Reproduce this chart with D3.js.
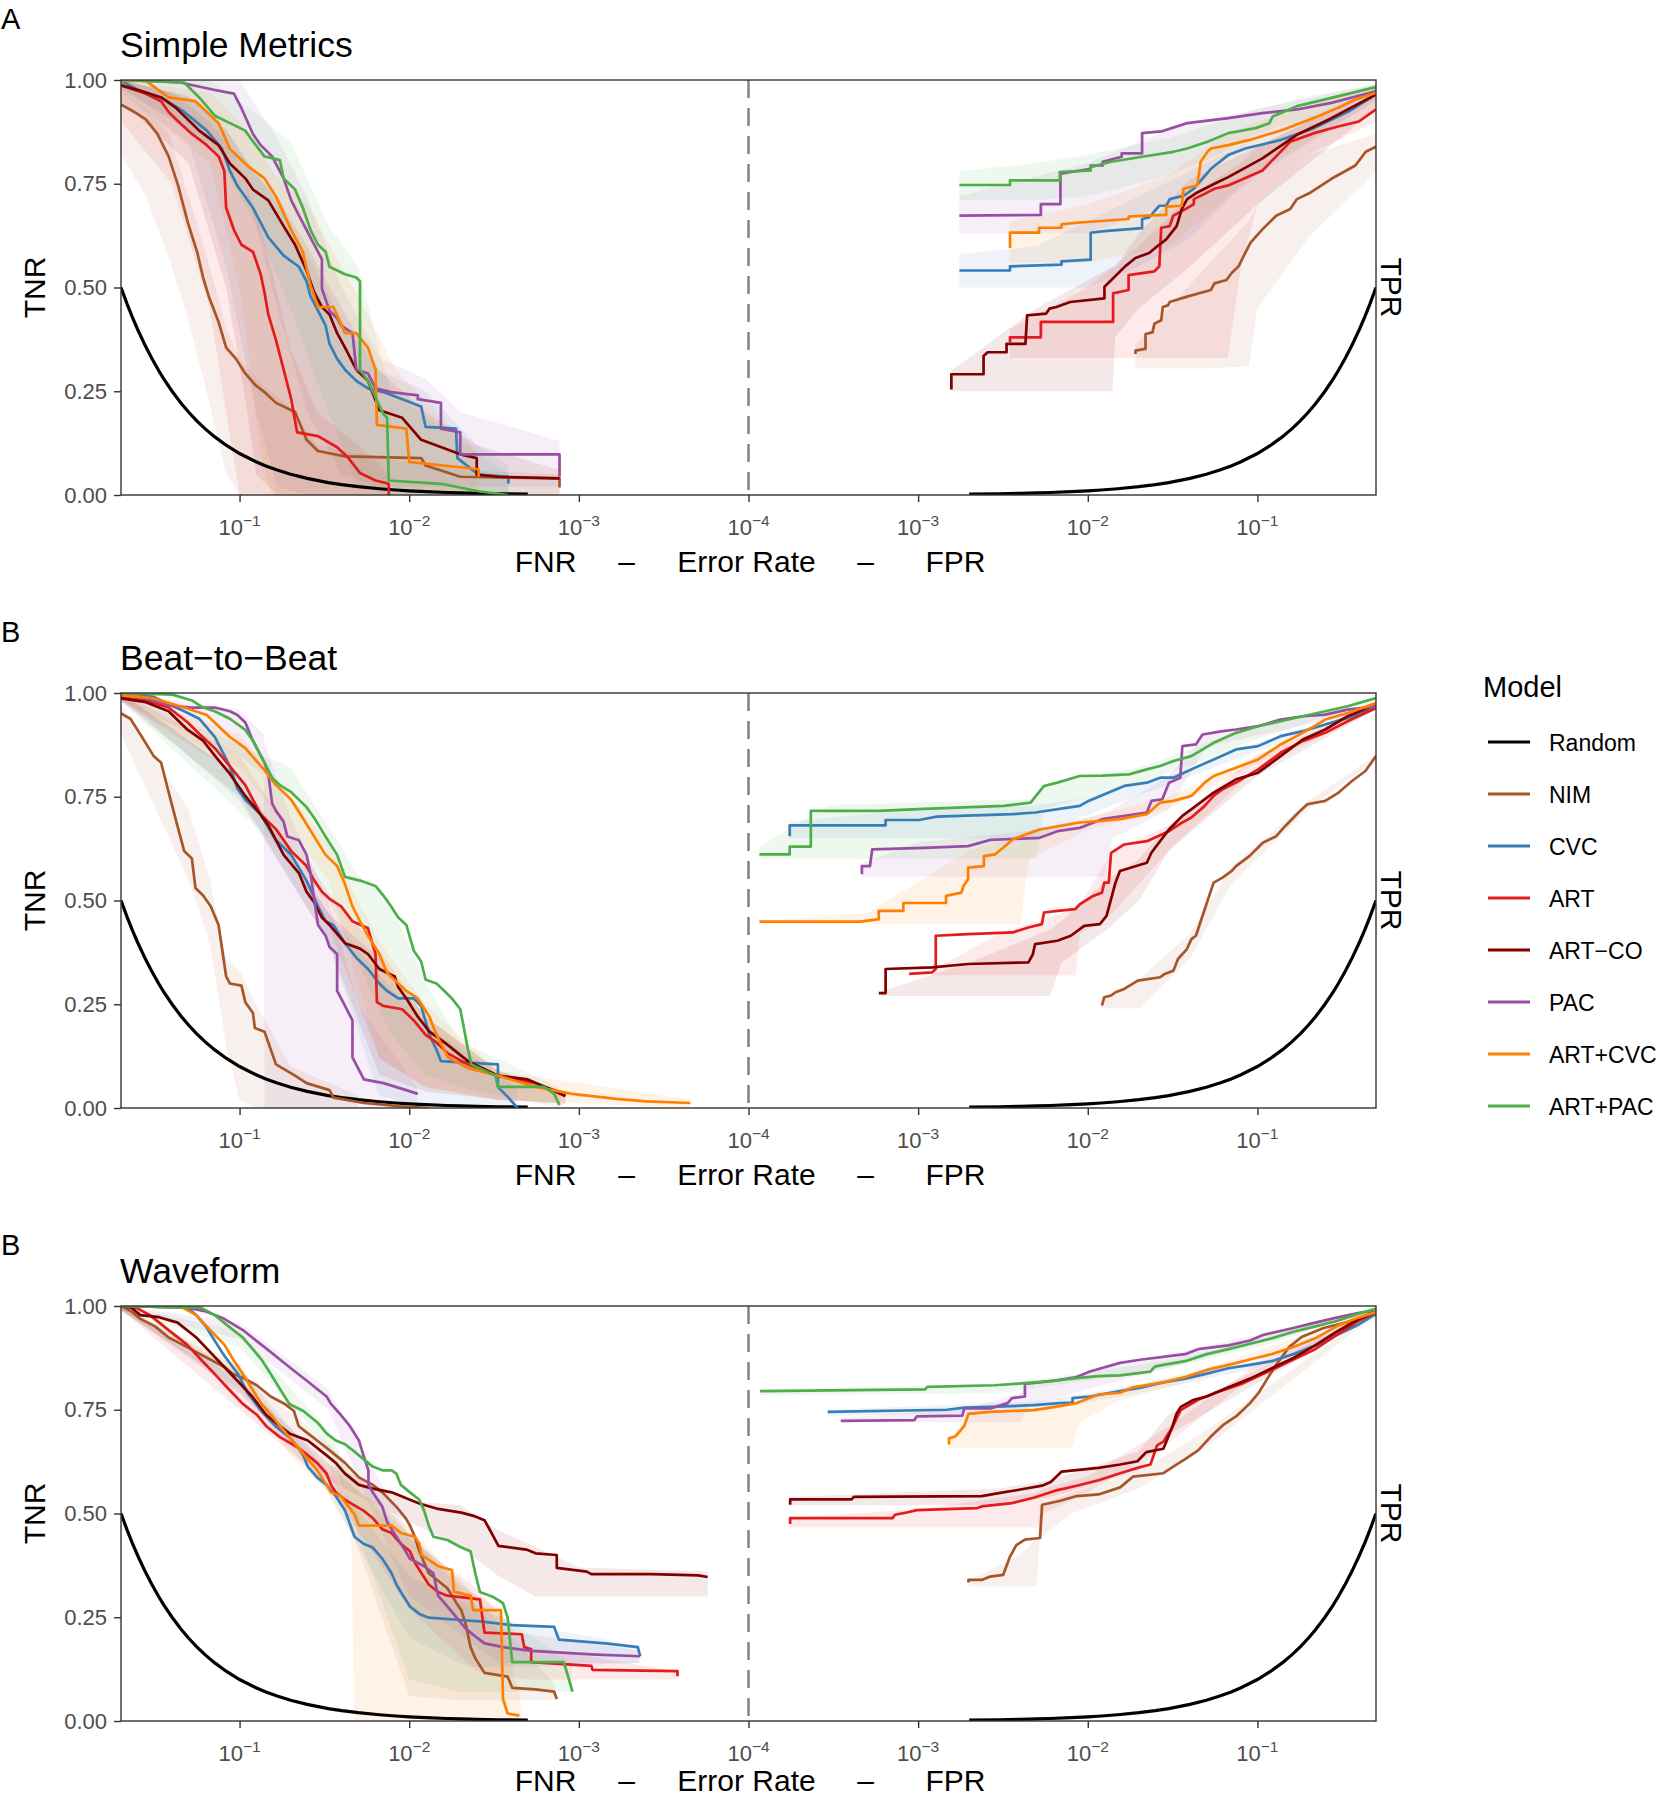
<!DOCTYPE html>
<html><head><meta charset="utf-8">
<script src="https://cdn.jsdelivr.net/npm/d3@7"></script>
<style>body{margin:0;background:#fff}svg text{font-family:"Liberation Sans",Arial,Helvetica,sans-serif}</style>
</head><body>
<svg id="chart" width="1661" height="1800"></svg>
<script>
// ---------- labels ----------
const legendTitle = "Model";
const models = ["Random","NIM","CVC","ART","ART\u2212CO","PAC","ART+CVC","ART+PAC"];
const modelColors = ["#000000","#a65628","#377eb8","#e41a1c","#800000","#984ea3","#ff7f00","#4daf4a"];
const panelTitles = ["Simple Metrics","Beat\u2212to\u2212Beat","Waveform"];
const panelTags = ["A","B","B"];
const yTickValues = [0,0.25,0.5,0.75,1];
const yTickLabels = ["0.00","0.25","0.50","0.75","1.00"];
const fnrTickValues = [0.1,0.01,0.001];
const fnrTickExponents = ["\u22121","\u22122","\u22123"];
const fprTickValues = [0.0001,0.001,0.01,0.1];
const fprTickExponents = ["\u22124","\u22123","\u22122","\u22121"];
const xTitleParts = ["FNR","\u2013","Error Rate","\u2013","FPR"];
const yTitleLeft = "TNR", yTitleRight = "TPR";

// ---------- Random reference curve (rate, rate) ----------
const randomRates  = [0.002,0.003,0.004,0.005,0.006,0.008,0.01,0.012,0.015,0.02,0.025,0.03,0.04,0.05,0.06,0.07,0.08,0.1,0.12,0.14,0.16,0.18,0.2,0.22,0.25,0.28,0.3,0.33,0.36,0.4,0.43,0.46,0.5];
const randomValues = [0.002,0.003,0.004,0.005,0.006,0.008,0.01,0.012,0.015,0.02,0.025,0.03,0.04,0.05,0.06,0.07,0.08,0.1,0.12,0.14,0.16,0.18,0.2,0.22,0.25,0.28,0.3,0.33,0.36,0.4,0.43,0.46,0.5];

// ================= Panel A: Simple Metrics =================
// left side: [FNR, TNR]
const A_FNR_NIM = [[0.5,0.941],[0.418,0.923],[0.357,0.905],[0.305,0.870],[0.262,0.816],[0.230,0.745],[0.202,0.657],[0.178,0.586],[0.164,0.524],[0.152,0.479],[0.133,0.417],[0.120,0.355],[0.105,0.328],[0.0925,0.293],[0.0813,0.266],[0.0713,0.248],[0.061,0.222],[0.0471,0.200],[0.0403,0.133],[0.0345,0.106],[0.0239,0.093],[0.0085,0.089],[0.0080,0.071],[0.0050,0.044],[0.0013,0.040],[0.0013,0.018]];
const A_FNR_CVC = [[0.5,0.998],[0.396,0.976],[0.29,0.958],[0.212,0.923],[0.156,0.878],[0.127,0.834],[0.114,0.781],[0.103,0.745],[0.0834,0.692],[0.0677,0.621],[0.055,0.577],[0.0447,0.550],[0.0403,0.515],[0.0382,0.479],[0.0345,0.444],[0.0311,0.408],[0.0295,0.364],[0.0266,0.328],[0.0239,0.302],[0.0205,0.275],[0.0175,0.257],[0.0142,0.248],[0.0085,0.213],[0.008,0.164],[0.0053,0.160],[0.0052,0.089],[0.0039,0.049],[0.0026,0.044],[0.0026,0.027]];
const A_FNR_ART = [[0.5,0.987],[0.357,0.967],[0.29,0.949],[0.262,0.923],[0.224,0.896],[0.191,0.870],[0.156,0.843],[0.133,0.816],[0.123,0.781],[0.120,0.692],[0.108,0.639],[0.0975,0.603],[0.0834,0.586],[0.0751,0.532],[0.0713,0.488],[0.0677,0.435],[0.061,0.373],[0.055,0.302],[0.0496,0.231],[0.0458,0.151],[0.0345,0.142],[0.0266,0.115],[0.0228,0.089],[0.0195,0.053],[0.0158,0.035],[0.0132,0.027],[0.0132,0]];
const A_FNR_ARTCO = [[0.5,0.987],[0.396,0.976],[0.29,0.958],[0.236,0.932],[0.173,0.878],[0.133,0.843],[0.114,0.799],[0.0925,0.763],[0.0834,0.736],[0.0677,0.710],[0.055,0.648],[0.0471,0.603],[0.0403,0.541],[0.0363,0.488],[0.0327,0.453],[0.0295,0.435],[0.0266,0.390],[0.0239,0.355],[0.0205,0.302],[0.0175,0.275],[0.015,0.204],[0.011,0.186],[0.0085,0.133],[0.005,0.098],[0.004,0.089],[0.004,0.049],[0.003,0.044],[0.0013,0.040]];
const A_FNR_PAC = [[0.5,1.0],[0.224,0.994],[0.14,0.976],[0.108,0.967],[0.0975,0.932],[0.0834,0.870],[0.0751,0.843],[0.0643,0.816],[0.055,0.763],[0.0496,0.710],[0.0447,0.674],[0.0403,0.639],[0.0363,0.603],[0.0327,0.568],[0.0327,0.497],[0.0295,0.444],[0.0266,0.426],[0.0252,0.408],[0.0216,0.390],[0.0205,0.302],[0.0175,0.293],[0.0158,0.257],[0.0128,0.248],[0.0089,0.240],[0.0089,0.231],[0.0065,0.222],[0.0065,0.160],[0.005,0.151],[0.005,0.098],[0.0013,0.098],[0.0013,0.044]];
const A_FNR_ARTCVC = [[0.5,0.998],[0.357,0.998],[0.262,0.958],[0.182,0.949],[0.156,0.923],[0.133,0.896],[0.114,0.834],[0.0878,0.790],[0.0713,0.763],[0.061,0.719],[0.0496,0.639],[0.0424,0.586],[0.0382,0.506],[0.0345,0.453],[0.028,0.453],[0.0239,0.390],[0.0205,0.390],[0.0175,0.355],[0.0158,0.302],[0.0155,0.169],[0.0104,0.160],[0.01,0.080],[0.0039,0.062],[0.0039,0.044]];
const A_FNR_ARTPAC = [[0.5,1.0],[0.212,0.994],[0.173,0.958],[0.14,0.914],[0.114,0.896],[0.0925,0.878],[0.0834,0.852],[0.0713,0.816],[0.0579,0.807],[0.055,0.763],[0.0471,0.736],[0.0424,0.692],[0.0382,0.639],[0.0345,0.603],[0.0311,0.586],[0.0295,0.550],[0.0239,0.532],[0.0205,0.524],[0.0195,0.515],[0.0195,0.302],[0.0175,0.275],[0.0142,0.195],[0.0135,0.186],[0.0132,0.035],[0.0065,0.027],[0.0039,0.009],[0.0026,0.0]];
// left side bands: [FNR, low, high]
const A_FNR_NIM_ci = [[0.5,0.82,0.97],[0.357,0.72,0.93],[0.26,0.57,0.87],[0.2,0.42,0.72],[0.15,0.22,0.55],[0.12,0.05,0.40],[0.1,0,0.33],[0.075,0,0.27],[0.05,0,0.21],[0.035,0,0.12],[0.02,0,0.10],[0.005,0,0.06],[0.0013,0,0.05]];
const A_FNR_CVC_ci = [[0.5,0.97,1],[0.2,0.85,0.96],[0.12,0.55,0.88],[0.08,0.2,0.78],[0.06,0.02,0.7],[0.04,0,0.58],[0.025,0,0.42],[0.015,0,0.3],[0.008,0,0.25],[0.004,0,0.12],[0.0026,0,0.07]];
const A_FNR_ART_ci = [[0.5,0.9,1],[0.25,0.75,0.97],[0.15,0.45,0.9],[0.12,0.2,0.85],[0.1,0,0.8],[0.07,0,0.6],[0.05,0,0.35],[0.035,0,0.2],[0.02,0,0.12],[0.0132,0,0.05]];
const A_FNR_ARTCO_ci = [[0.5,0.95,1],[0.2,0.8,0.96],[0.12,0.5,0.88],[0.09,0.2,0.8],[0.08,0.05,0.77],[0.06,0,0.72],[0.04,0,0.6],[0.025,0,0.45],[0.015,0,0.3],[0.008,0,0.2],[0.004,0,0.12],[0.0013,0,0.06]];
const A_FNR_PAC_ci = [[0.5,0.98,1],[0.1,0.8,1],[0.06,0.45,0.86],[0.04,0.2,0.72],[0.025,0.05,0.5],[0.015,0.02,0.33],[0.008,0.02,0.28],[0.005,0.02,0.2],[0.0013,0.02,0.13]];
const A_FNR_ARTCVC_ci = [[0.5,0.97,1],[0.15,0.8,0.97],[0.1,0.5,0.9],[0.075,0.1,0.83],[0.065,0,0.78],[0.04,0,0.7],[0.02,0,0.48],[0.012,0,0.3],[0.0039,0,0.1]];
const A_FNR_ARTPAC_ci = [[0.5,0.98,1],[0.15,0.85,1],[0.08,0.65,0.92],[0.05,0.45,0.85],[0.03,0.2,0.65],[0.02,0.02,0.55],[0.013,0,0.25],[0.0026,0,0.05]];
// right side: [FPR, TPR]
const A_FPR_NIM = [[0.0191,0.340],[0.0191,0.348],[0.0219,0.352],[0.0219,0.388],[0.0241,0.392],[0.0247,0.413],[0.0271,0.421],[0.0277,0.453],[0.0297,0.457],[0.0304,0.465],[0.0385,0.478],[0.0532,0.494],[0.0558,0.510],[0.0657,0.518],[0.0705,0.535],[0.0774,0.551],[0.0849,0.584],[0.0911,0.608],[0.107,0.640],[0.129,0.673],[0.156,0.689],[0.171,0.713],[0.206,0.729],[0.273,0.762],[0.378,0.794],[0.435,0.827],[0.5,0.839]];
const A_FPR_CVC = [[0.00175,0.541],[0.00348,0.541],[0.00348,0.551],[0.007,0.555],[0.007,0.563],[0.0104,0.567],[0.0104,0.632],[0.01254,0.636],[0.0209,0.643],[0.0209,0.665],[0.023,0.669],[0.0264,0.697],[0.029,0.697],[0.0304,0.713],[0.0367,0.721],[0.0422,0.738],[0.0532,0.786],[0.0673,0.819],[0.0849,0.835],[0.1355,0.855],[0.216,0.884],[0.344,0.924],[0.5,0.965]];
const A_FPR_ART = [[0.00348,0.368],[0.00348,0.380],[0.00529,0.380],[0.00529,0.417],[0.0141,0.417],[0.0141,0.486],[0.0174,0.494],[0.0174,0.530],[0.0247,0.539],[0.0264,0.551],[0.0271,0.644],[0.0304,0.648],[0.0319,0.673],[0.0376,0.689],[0.0422,0.701],[0.0422,0.713],[0.0485,0.725],[0.0558,0.738],[0.0673,0.746],[0.107,0.782],[0.156,0.851],[0.216,0.872],[0.299,0.888],[0.396,0.900],[0.5,0.929]];
const A_FPR_ARTCO = [[0.00157,0.254],[0.00157,0.291],[0.00243,0.291],[0.00243,0.335],[0.00257,0.344],[0.00332,0.344],[0.00332,0.364],[0.00429,0.364],[0.00439,0.433],[0.00567,0.437],[0.00594,0.449],[0.00653,0.453],[0.00787,0.465],[0.01254,0.474],[0.01254,0.502],[0.01377,0.518],[0.0166,0.551],[0.0191,0.571],[0.023,0.583],[0.0258,0.600],[0.029,0.616],[0.0334,0.648],[0.0358,0.689],[0.0385,0.713],[0.0442,0.729],[0.0558,0.750],[0.0673,0.766],[0.107,0.811],[0.171,0.868],[0.273,0.908],[0.5,0.965]];
const A_FPR_PAC = [[0.00175,0.673],[0.00529,0.675],[0.00529,0.701],[0.0069,0.701],[0.0069,0.774],[0.0104,0.786],[0.0104,0.794],[0.01225,0.794],[0.01225,0.803],[0.01584,0.815],[0.01584,0.823],[0.0209,0.823],[0.0209,0.872],[0.0271,0.876],[0.0385,0.896],[0.0673,0.908],[0.107,0.920],[0.171,0.929],[0.273,0.945],[0.5,0.973]];
const A_FPR_ARTCVC = [[0.00348,0.595],[0.00348,0.632],[0.00516,0.632],[0.00516,0.644],[0.007,0.644],[0.007,0.652],[0.00863,0.656],[0.0174,0.665],[0.0174,0.671],[0.0219,0.673],[0.029,0.675],[0.029,0.695],[0.0358,0.697],[0.0367,0.738],[0.0442,0.746],[0.0463,0.803],[0.0508,0.827],[0.0532,0.835],[0.0673,0.843],[0.089,0.855],[0.142,0.880],[0.226,0.912],[0.299,0.933],[0.378,0.953],[0.5,0.969]];
const A_FPR_ARTPAC = [[0.00175,0.747],[0.00348,0.747],[0.00348,0.758],[0.00684,0.758],[0.00684,0.778],[0.0104,0.782],[0.0104,0.790],[0.01377,0.803],[0.0209,0.815],[0.0319,0.827],[0.0385,0.835],[0.0508,0.851],[0.0673,0.872],[0.0977,0.884],[0.1177,0.896],[0.123,0.912],[0.171,0.937],[0.273,0.957],[0.5,0.983]];
const A_FPR_NIM_ci = [[0.0191,0.305,0.36],[0.05,0.305,0.55],[0.089,0.31,0.66],[0.1,0.45,0.7],[0.2,0.62,0.82],[0.5,0.78,0.87]];
const A_FPR_CVC_ci = [[0.00175,0.50,0.58],[0.005,0.5,0.6],[0.01,0.5,0.66],[0.02,0.55,0.72],[0.04,0.62,0.78],[0.07,0.72,0.83],[0.1,0.77,0.86],[0.5,0.95,0.98]];
const A_FPR_ART_ci = [[0.00348,0.33,0.4],[0.01,0.33,0.5],[0.02,0.33,0.6],[0.04,0.33,0.72],[0.067,0.33,0.78],[0.08,0.55,0.8],[0.1,0.7,0.84],[0.2,0.82,0.9],[0.5,0.9,0.96]];
const A_FPR_ARTCO_ci = [[0.00157,0.25,0.30],[0.005,0.25,0.45],[0.014,0.25,0.55],[0.0145,0.38,0.55],[0.02,0.45,0.63],[0.04,0.55,0.76],[0.1,0.7,0.84],[0.5,0.93,0.98]];
const A_FPR_PAC_ci = [[0.00175,0.63,0.72],[0.01,0.63,0.8],[0.03,0.7,0.88],[0.06,0.8,0.91],[0.1,0.86,0.93],[0.5,0.96,0.99]];
const A_FPR_ARTCVC_ci = [[0.00348,0.56,0.66],[0.01,0.56,0.7],[0.03,0.6,0.77],[0.06,0.7,0.86],[0.1,0.78,0.9],[0.5,0.95,0.99]];
const A_FPR_ARTPAC_ci = [[0.00175,0.71,0.78],[0.005,0.71,0.8],[0.01,0.72,0.82],[0.03,0.77,0.86],[0.06,0.82,0.9],[0.1,0.87,0.93],[0.2,0.91,0.96],[0.5,0.97,0.99]];

// ================= Panel B: Beat-to-Beat =================
const B_FNR_NIM = [[0.5,0.951],[0.44,0.938],[0.376,0.894],[0.322,0.849],[0.29,0.832],[0.262,0.761],[0.236,0.690],[0.212,0.619],[0.191,0.601],[0.182,0.530],[0.164,0.512],[0.148,0.486],[0.133,0.441],[0.12,0.317],[0.114,0.300],[0.0975,0.295],[0.0925,0.255],[0.0834,0.229],[0.0813,0.193],[0.0713,0.184],[0.0677,0.158],[0.061,0.105],[0.0471,0.078],[0.0403,0.060],[0.0295,0.043],[0.028,0.025],[0.0185,0.012],[0.011,0.004],[0.0077,0]];
const B_FNR_CVC = [[0.5,1],[0.322,0.991],[0.262,0.973],[0.212,0.956],[0.173,0.938],[0.14,0.894],[0.114,0.823],[0.103,0.770],[0.0925,0.743],[0.0751,0.707],[0.061,0.645],[0.0496,0.610],[0.0403,0.548],[0.0345,0.486],[0.0311,0.450],[0.028,0.441],[0.0239,0.397],[0.0205,0.362],[0.0175,0.335],[0.015,0.300],[0.0135,0.282],[0.0116,0.264],[0.0094,0.264],[0.0085,0.246],[0.0076,0.176],[0.0069,0.140],[0.0065,0.113],[0.003,0.105],[0.003,0.051],[0.0026,0.025],[0.0023,0]];
const B_FNR_ART = [[0.5,0.989],[0.357,0.982],[0.262,0.965],[0.202,0.929],[0.173,0.902],[0.14,0.867],[0.114,0.823],[0.0925,0.778],[0.0751,0.707],[0.061,0.672],[0.0496,0.619],[0.0403,0.583],[0.0363,0.548],[0.0327,0.521],[0.0295,0.504],[0.0252,0.486],[0.0216,0.450],[0.0175,0.433],[0.0158,0.371],[0.0155,0.255],[0.0142,0.246],[0.011,0.238],[0.0094,0.211],[0.008,0.176],[0.0069,0.158],[0.0059,0.131],[0.0045,0.105],[0.003,0.078],[0.0018,0.060],[0.0014,0.043],[0.0012,0.029]];
const B_FNR_ARTCO = [[0.5,0.987],[0.357,0.978],[0.262,0.956],[0.202,0.911],[0.164,0.885],[0.14,0.849],[0.114,0.805],[0.0925,0.752],[0.0751,0.707],[0.0677,0.681],[0.055,0.610],[0.0447,0.566],[0.0403,0.521],[0.0363,0.495],[0.0327,0.459],[0.0295,0.441],[0.0239,0.397],[0.0195,0.384],[0.0175,0.371],[0.015,0.335],[0.0122,0.317],[0.0116,0.291],[0.0104,0.264],[0.0089,0.220],[0.0076,0.184],[0.0062,0.158],[0.0045,0.113],[0.003,0.078],[0.002,0.069],[0.0016,0.051],[0.0012,0.029]];
const B_FNR_PAC = [[0.5,1],[0.322,0.982],[0.248,0.969],[0.191,0.965],[0.14,0.965],[0.114,0.956],[0.103,0.947],[0.0925,0.929],[0.0834,0.885],[0.0713,0.832],[0.0677,0.805],[0.0643,0.734],[0.061,0.716],[0.055,0.690],[0.0523,0.654],[0.0447,0.645],[0.0403,0.610],[0.0382,0.566],[0.0345,0.441],[0.0311,0.415],[0.0295,0.388],[0.0266,0.371],[0.0266,0.282],[0.0239,0.246],[0.0216,0.211],[0.0216,0.122],[0.0185,0.069],[0.0142,0.060],[0.0104,0.043],[0.0089,0.034]];
const B_FNR_ARTCVC = [[0.5,0.996],[0.322,0.987],[0.212,0.965],[0.156,0.947],[0.114,0.894],[0.0925,0.867],[0.0713,0.814],[0.061,0.778],[0.0496,0.743],[0.0424,0.699],[0.0363,0.654],[0.0311,0.610],[0.0266,0.583],[0.0239,0.539],[0.0216,0.486],[0.0195,0.450],[0.0175,0.415],[0.015,0.371],[0.0135,0.326],[0.0116,0.300],[0.0104,0.282],[0.0089,0.264],[0.0076,0.220],[0.0069,0.176],[0.0059,0.122],[0.0045,0.096],[0.003,0.078],[0.0018,0.051],[0.0011,0.034],[0.0006,0.022],[0.0004,0.016],[0.00022,0.012]];
const B_FNR_ARTPAC = [[0.5,1],[0.248,0.996],[0.191,0.982],[0.164,0.965],[0.14,0.956],[0.114,0.938],[0.0925,0.911],[0.0834,0.885],[0.0713,0.832],[0.0643,0.796],[0.0579,0.778],[0.0496,0.761],[0.0403,0.725],[0.0363,0.699],[0.0311,0.654],[0.0266,0.610],[0.0239,0.557],[0.0195,0.548],[0.0158,0.535],[0.0142,0.512],[0.0128,0.486],[0.0116,0.459],[0.0104,0.441],[0.0094,0.379],[0.0085,0.353],[0.008,0.309],[0.0069,0.300],[0.0062,0.282],[0.0056,0.264],[0.005,0.238],[0.0045,0.140],[0.0043,0.105],[0.0031,0.078],[0.003,0.051],[0.0016,0.051],[0.0014,0.034],[0.0013,0.007]];
const B_FNR_NIM_ci = [[0.5,0.9,0.97],[0.2,0.55,0.72],[0.15,0.4,0.55],[0.12,0.15,0.36],[0.1,0.02,0.33],[0.08,0,0.25],[0.05,0,0.1],[0.02,0,0.03]];
const B_FNR_CVC_ci = [[0.5,0.99,1],[0.1,0.74,0.8],[0.03,0.4,0.47],[0.015,0.03,0.32],[0.008,0,0.2],[0.0023,0,0.05]];
const B_FNR_ART_ci = [[0.5,0.98,1],[0.1,0.8,0.85],[0.03,0.44,0.52],[0.015,0.12,0.38],[0.008,0.05,0.22],[0.003,0.02,0.09],[0.0012,0.01,0.04]];
const B_FNR_ARTCO_ci = [[0.5,0.98,1],[0.1,0.75,0.8],[0.03,0.4,0.47],[0.015,0.08,0.36],[0.008,0.04,0.22],[0.003,0.02,0.09],[0.0012,0.01,0.04]];
const B_FNR_PAC_ci = [[0.5,0.98,1],[0.1,0.85,0.96],[0.072,0.8,0.9],[0.0713,0,0.88],[0.05,0,0.7],[0.03,0,0.5],[0.02,0,0.25],[0.009,0,0.05]];
const B_FNR_ARTCVC_ci = [[0.5,0.98,1],[0.1,0.82,0.9],[0.03,0.55,0.64],[0.015,0.12,0.4],[0.008,0.05,0.25],[0.003,0.02,0.09],[0.00022,0,0.02]];
const B_FNR_ARTPAC_ci = [[0.5,0.98,1],[0.05,0.6,0.82],[0.03,0.5,0.68],[0.02,0.35,0.56],[0.013,0.18,0.5],[0.008,0.08,0.3],[0.005,0.05,0.16],[0.0013,0,0.05]];
const B_FPR_NIM = [[0.01213,0.247],[0.0125,0.267],[0.01371,0.271],[0.01456,0.279],[0.0164,0.287],[0.0197,0.307],[0.0267,0.315],[0.0284,0.323],[0.032,0.331],[0.034,0.359],[0.0384,0.383],[0.0408,0.407],[0.0434,0.415],[0.0489,0.479],[0.0552,0.543],[0.0623,0.555],[0.0704,0.571],[0.0748,0.583],[0.0897,0.607],[0.1076,0.639],[0.129,0.655],[0.1456,0.679],[0.1746,0.712],[0.197,0.732],[0.251,0.740],[0.301,0.760],[0.361,0.788],[0.433,0.812],[0.5,0.848]];
const B_FPR_CVC = [[0.000175,0.655],[0.000175,0.681],[0.000643,0.681],[0.000643,0.694],[0.00101,0.694],[0.00129,0.702],[0.00361,0.708],[0.00489,0.712],[0.00897,0.728],[0.0101,0.740],[0.0164,0.776],[0.0223,0.784],[0.0267,0.796],[0.032,0.796],[0.0408,0.816],[0.0552,0.840],[0.0748,0.864],[0.101,0.872],[0.137,0.896],[0.185,0.908],[0.251,0.924],[0.34,0.940],[0.5,0.964]];
const B_FPR_ART = [[0.000885,0.323],[0.00121,0.327],[0.00127,0.335],[0.00127,0.415],[0.00197,0.419],[0.00361,0.423],[0.00447,0.435],[0.00536,0.443],[0.00552,0.471],[0.00662,0.475],[0.00844,0.479],[0.00897,0.491],[0.01076,0.511],[0.01213,0.519],[0.0125,0.543],[0.0133,0.543],[0.01371,0.615],[0.0164,0.635],[0.0223,0.643],[0.0301,0.667],[0.0361,0.688],[0.0408,0.700],[0.0489,0.728],[0.0552,0.752],[0.0623,0.768],[0.0748,0.784],[0.101,0.816],[0.137,0.856],[0.185,0.884],[0.251,0.904],[0.34,0.932],[0.5,0.964]];
const B_FPR_ARTCO = [[0.000586,0.277],[0.000643,0.277],[0.000643,0.335],[0.00121,0.339],[0.00197,0.347],[0.00447,0.351],[0.00475,0.371],[0.00489,0.395],[0.00662,0.403],[0.00794,0.415],[0.00953,0.439],[0.01178,0.443],[0.0129,0.463],[0.01456,0.543],[0.01547,0.571],[0.0223,0.591],[0.0237,0.615],[0.0301,0.671],[0.0361,0.704],[0.0434,0.728],[0.0552,0.760],[0.0748,0.792],[0.101,0.808],[0.137,0.848],[0.185,0.888],[0.251,0.912],[0.34,0.944],[0.5,0.972]];
const B_FPR_PAC = [[0.000466,0.563],[0.000466,0.583],[0.00052,0.583],[0.000536,0.623],[0.00108,0.627],[0.00197,0.631],[0.00267,0.646],[0.0052,0.651],[0.00662,0.667],[0.00897,0.675],[0.01213,0.696],[0.0223,0.712],[0.0237,0.740],[0.0275,0.744],[0.0301,0.784],[0.0351,0.796],[0.0361,0.872],[0.0434,0.876],[0.0475,0.900],[0.0623,0.908],[0.0748,0.912],[0.101,0.920],[0.137,0.936],[0.185,0.944],[0.251,0.948],[0.34,0.960],[0.5,0.968]];
const B_FPR_ARTCVC = [[0.000116,0.449],[0.00046,0.449],[0.000586,0.455],[0.000586,0.475],[0.000818,0.475],[0.000818,0.494],[0.00146,0.494],[0.00146,0.511],[0.0018,0.519],[0.00185,0.535],[0.00197,0.551],[0.00197,0.579],[0.00244,0.583],[0.00244,0.607],[0.00284,0.611],[0.00361,0.647],[0.0052,0.671],[0.00897,0.688],[0.01213,0.692],[0.01547,0.696],[0.0223,0.708],[0.0267,0.736],[0.032,0.740],[0.0408,0.752],[0.0489,0.784],[0.0552,0.800],[0.0748,0.820],[0.101,0.840],[0.137,0.876],[0.185,0.904],[0.251,0.936],[0.34,0.952],[0.5,0.976]];
const B_FPR_ARTPAC = [[0.000116,0.611],[0.000175,0.611],[0.000175,0.630],[0.000233,0.630],[0.000233,0.716],[0.000586,0.716],[0.00108,0.721],[0.0032,0.728],[0.0046,0.736],[0.00552,0.776],[0.00662,0.784],[0.00897,0.800],[0.01213,0.801],[0.01746,0.804],[0.0223,0.816],[0.0267,0.824],[0.032,0.836],[0.0408,0.848],[0.0552,0.880],[0.0748,0.904],[0.101,0.920],[0.137,0.932],[0.185,0.944],[0.251,0.956],[0.34,0.968],[0.5,0.988]];
const B_FPR_NIM_ci = [[0.012,0.24,0.26],[0.02,0.24,0.31],[0.04,0.36,0.42],[0.07,0.54,0.58],[0.2,0.72,0.74],[0.5,0.84,0.85]];
const B_FPR_CVC_ci = [[0.000175,0.65,0.69],[0.001,0.65,0.72],[0.005,0.65,0.73],[0.009,0.7,0.745],[0.03,0.78,0.8],[0.1,0.86,0.88],[0.5,0.96,0.97]];
const B_FPR_ART_ci = [[0.0012,0.32,0.33],[0.003,0.32,0.42],[0.0085,0.32,0.48],[0.009,0.42,0.49],[0.014,0.47,0.62],[0.03,0.62,0.68],[0.1,0.82,0.85],[0.5,0.96,0.97]];
const B_FPR_ARTCO_ci = [[0.0006,0.27,0.28],[0.002,0.27,0.35],[0.006,0.27,0.43],[0.007,0.35,0.45],[0.013,0.43,0.55],[0.02,0.5,0.6],[0.03,0.62,0.68],[0.1,0.8,0.82],[0.5,0.96,0.975]];
const B_FPR_PAC_ci = [[0.000466,0.557,0.59],[0.001,0.557,0.64],[0.005,0.557,0.67],[0.0125,0.557,0.71],[0.014,0.65,0.72],[0.03,0.72,0.8],[0.05,0.87,0.9],[0.5,0.96,0.975]];
const B_FPR_ARTCVC_ci = [[0.000116,0.443,0.45],[0.0005,0.443,0.47],[0.002,0.443,0.62],[0.004,0.443,0.66],[0.0045,0.6,0.67],[0.01,0.67,0.7],[0.03,0.72,0.75],[0.1,0.83,0.85],[0.5,0.97,0.98]];
const B_FPR_ARTPAC_ci = [[0.000116,0.6,0.63],[0.0003,0.6,0.73],[0.005,0.6,0.745],[0.0055,0.72,0.78],[0.01,0.75,0.8],[0.02,0.78,0.82],[0.05,0.84,0.88],[0.1,0.89,0.915],[0.5,0.98,0.99]];

// ================= Panel C: Waveform =================
const C_FNR_NIM = [[0.5,1],[0.435,0.987],[0.384,0.969],[0.315,0.951],[0.262,0.924],[0.217,0.907],[0.18,0.889],[0.149,0.871],[0.123,0.853],[0.109,0.836],[0.0957,0.827],[0.0792,0.809],[0.0655,0.782],[0.0542,0.764],[0.0478,0.747],[0.0449,0.711],[0.0396,0.693],[0.0349,0.676],[0.0307,0.658],[0.0271,0.640],[0.0239,0.622],[0.0198,0.587],[0.0164,0.569],[0.0144,0.551],[0.0119,0.516],[0.0105,0.489],[0.0099,0.471],[0.00927,0.444],[0.00871,0.409],[0.00817,0.382],[0.00767,0.356],[0.00676,0.338],[0.00596,0.320],[0.00526,0.284],[0.00493,0.267],[0.00463,0.231],[0.00435,0.178],[0.00408,0.151],[0.0036,0.116],[0.00263,0.107],[0.00247,0.080],[0.0018,0.076],[0.0014,0.071],[0.00135,0.053]];
const C_FNR_CVC = [[0.5,1],[0.204,0.996],[0.18,0.978],[0.158,0.951],[0.14,0.916],[0.123,0.88],[0.102,0.836],[0.0898,0.791],[0.0743,0.747],[0.0615,0.711],[0.0509,0.684],[0.0449,0.658],[0.0421,0.640],[0.0396,0.613],[0.0349,0.587],[0.0307,0.569],[0.0271,0.542],[0.0239,0.507],[0.021,0.444],[0.0186,0.427],[0.0164,0.418],[0.0144,0.391],[0.0127,0.356],[0.0119,0.329],[0.0112,0.311],[0.0099,0.276],[0.00871,0.258],[0.00767,0.249],[0.00526,0.244],[0.00383,0.240],[0.00247,0.231],[0.0014,0.227],[0.00131,0.196],[0.000698,0.187],[0.000449,0.178],[0.000435,0.156]];
const C_FNR_ART = [[0.5,1],[0.408,0.996],[0.338,0.978],[0.262,0.942],[0.204,0.907],[0.169,0.871],[0.14,0.836],[0.116,0.8],[0.0957,0.764],[0.0792,0.738],[0.0698,0.711],[0.0578,0.684],[0.0449,0.658],[0.0396,0.640],[0.0349,0.622],[0.0307,0.596],[0.0289,0.569],[0.0271,0.551],[0.0239,0.533],[0.0186,0.507],[0.0164,0.489],[0.0144,0.462],[0.0127,0.453],[0.0112,0.427],[0.0099,0.409],[0.00927,0.382],[0.00871,0.364],[0.00767,0.329],[0.00676,0.311],[0.00596,0.302],[0.00383,0.293],[0.0036,0.213],[0.00217,0.209],[0.0021,0.178],[0.00191,0.173],[0.00191,0.142],[0.000844,0.133],[0.00083,0.123],[0.000262,0.120],[0.000262,0.108]];
const C_FNR_ARTCO = [[0.5,1],[0.435,0.996],[0.384,0.978],[0.298,0.973],[0.232,0.960],[0.18,0.924],[0.149,0.889],[0.123,0.853],[0.102,0.818],[0.0843,0.782],[0.0698,0.738],[0.0578,0.711],[0.0509,0.693],[0.0396,0.676],[0.0307,0.640],[0.0271,0.622],[0.0239,0.596],[0.0198,0.569],[0.0164,0.560],[0.0127,0.551],[0.0112,0.542],[0.0099,0.533],[0.00871,0.524],[0.00676,0.511],[0.00493,0.502],[0.00408,0.493],[0.0036,0.484],[0.00327,0.453],[0.00298,0.422],[0.00204,0.413],[0.0018,0.404],[0.00135,0.400],[0.00135,0.369],[0.000898,0.360],[0.000844,0.354],[0.000372,0.354],[0.000198,0.351],[0.000174,0.347]];
const C_FNR_PAC = [[0.5,1],[0.204,0.996],[0.158,0.987],[0.123,0.969],[0.0957,0.942],[0.0843,0.924],[0.0698,0.898],[0.0578,0.871],[0.0478,0.844],[0.0396,0.818],[0.0349,0.8],[0.0307,0.782],[0.0289,0.764],[0.0254,0.738],[0.0224,0.711],[0.021,0.693],[0.0198,0.676],[0.0186,0.640],[0.0174,0.604],[0.0174,0.569],[0.0164,0.551],[0.0144,0.516],[0.0135,0.48],[0.0127,0.462],[0.0112,0.427],[0.0105,0.409],[0.0099,0.391],[0.00817,0.373],[0.00721,0.356],[0.00676,0.302],[0.00596,0.276],[0.00526,0.249],[0.00463,0.222],[0.00408,0.204],[0.0036,0.187],[0.0028,0.178],[0.00191,0.169],[0.000792,0.16],[0.000435,0.156]];
const C_FNR_ARTCVC = [[0.5,1],[0.315,1],[0.217,0.996],[0.18,0.978],[0.149,0.942],[0.123,0.907],[0.109,0.871],[0.0957,0.836],[0.0843,0.8],[0.0743,0.764],[0.0655,0.738],[0.0578,0.711],[0.0509,0.684],[0.0449,0.658],[0.0396,0.631],[0.0349,0.604],[0.0307,0.569],[0.0289,0.551],[0.0254,0.542],[0.021,0.498],[0.0198,0.471],[0.0164,0.471],[0.0127,0.471],[0.0112,0.453],[0.00927,0.444],[0.00871,0.427],[0.00844,0.4],[0.00676,0.373],[0.0056,0.364],[0.00545,0.311],[0.00435,0.302],[0.0042,0.267],[0.00288,0.267],[0.0028,0.053],[0.00263,0.018],[0.00224,0.013]];
const C_FNR_ARTPAC = [[0.5,1],[0.169,0.996],[0.14,0.978],[0.116,0.951],[0.0957,0.924],[0.0843,0.898],[0.0743,0.871],[0.0655,0.836],[0.0578,0.8],[0.0509,0.764],[0.0421,0.747],[0.0349,0.72],[0.0307,0.693],[0.0271,0.676],[0.0239,0.667],[0.021,0.649],[0.0186,0.631],[0.0164,0.613],[0.0144,0.604],[0.0127,0.604],[0.0119,0.596],[0.0112,0.569],[0.0099,0.551],[0.00871,0.533],[0.00817,0.507],[0.00767,0.471],[0.00721,0.444],[0.00596,0.436],[0.00493,0.418],[0.00435,0.409],[0.00408,0.356],[0.00383,0.311],[0.00317,0.298],[0.0028,0.284],[0.00263,0.249],[0.00247,0.142],[0.0018,0.142],[0.00123,0.142],[0.00119,0.124],[0.00109,0.071]];
const C_FNR_NIM_ci = [[0.5,0.99,1],[0.1,0.8,0.84],[0.03,0.62,0.67],[0.01,0.06,0.45],[0.005,0.05,0.34],[0.0014,0.05,0.09]];
const C_FNR_CVC_ci = [[0.5,0.99,1],[0.1,0.8,0.85],[0.03,0.55,0.6],[0.01,0.2,0.35],[0.0045,0.13,0.28],[0.0025,0.13,0.24],[0.00044,0.14,0.18]];
const C_FNR_ART_ci = [[0.5,0.99,1],[0.1,0.75,0.8],[0.03,0.57,0.62],[0.01,0.27,0.44],[0.004,0.12,0.32],[0.002,0.1,0.18],[0.00026,0.1,0.12]];
const C_FNR_ARTCO_ci = [[0.5,0.99,1],[0.1,0.79,0.82],[0.03,0.58,0.62],[0.01,0.48,0.53],[0.005,0.42,0.52],[0.003,0.35,0.46],[0.0018,0.3,0.42],[0.001,0.3,0.37],[0.000174,0.3,0.36]];
const C_FNR_PAC_ci = [[0.5,0.99,1],[0.1,0.92,0.96],[0.03,0.75,0.8],[0.01,0.3,0.45],[0.003,0.14,0.22],[0.00044,0.14,0.17]];
const C_FNR_ARTCVC_ci = [[0.5,0.99,1],[0.1,0.82,0.86],[0.05,0.64,0.68],[0.03,0.55,0.6],[0.022,0.45,0.57],[0.021,0,0.56],[0.01,0,0.47],[0.005,0,0.33],[0.003,0,0.27],[0.0022,0,0.05]];
const C_FNR_ARTPAC_ci = [[0.5,0.99,1],[0.1,0.9,0.94],[0.03,0.66,0.7],[0.02,0.45,0.56],[0.01,0.1,0.45],[0.005,0.07,0.33],[0.003,0.07,0.26],[0.0011,0.07,0.14]];
const C_FPR_NIM = [[0.00198,0.334],[0.00198,0.340],[0.00237,0.340],[0.00266,0.348],[0.00317,0.352],[0.00347,0.395],[0.00379,0.424],[0.00426,0.437],[0.00523,0.441],[0.00538,0.521],[0.00681,0.530],[0.00861,0.542],[0.01156,0.546],[0.01552,0.563],[0.0185,0.589],[0.0279,0.597],[0.0333,0.618],[0.0375,0.631],[0.0447,0.652],[0.0533,0.686],[0.0635,0.715],[0.0759,0.736],[0.0905,0.766],[0.1018,0.791],[0.1145,0.825],[0.1288,0.858],[0.1536,0.901],[0.183,0.926],[0.246,0.947],[0.33,0.960],[0.417,0.972],[0.5,0.981]];
const C_FPR_CVC = [[0.000293,0.745],[0.00148,0.750],[0.00187,0.755],[0.00266,0.757],[0.00479,0.761],[0.00681,0.766],[0.00813,0.767],[0.00813,0.778],[0.01028,0.782],[0.01552,0.795],[0.0208,0.804],[0.0279,0.816],[0.0375,0.825],[0.0503,0.837],[0.0675,0.850],[0.0905,0.858],[0.1214,0.867],[0.163,0.884],[0.219,0.905],[0.293,0.930],[0.393,0.955],[0.5,0.981]];
const C_FPR_ART = [[0.000176,0.475],[0.000176,0.489],[0.000708,0.489],[0.00073,0.497],[0.000871,0.503],[0.00098,0.508],[0.00223,0.513],[0.00237,0.517],[0.00357,0.525],[0.00479,0.538],[0.00643,0.555],[0.00861,0.567],[0.01156,0.580],[0.01552,0.597],[0.01963,0.610],[0.0234,0.618],[0.0256,0.664],[0.0279,0.673],[0.0314,0.707],[0.0353,0.749],[0.0447,0.774],[0.0565,0.791],[0.0805,0.812],[0.1214,0.846],[0.163,0.871],[0.219,0.896],[0.293,0.930],[0.393,0.964],[0.5,0.985]];
const C_FPR_ARTCO = [[0.000176,0.521],[0.000176,0.534],[0.000405,0.534],[0.000418,0.540],[0.00237,0.542],[0.00317,0.551],[0.00379,0.556],[0.00538,0.567],[0.00605,0.576],[0.00702,0.601],[0.01156,0.610],[0.01552,0.618],[0.01963,0.626],[0.0221,0.648],[0.0279,0.656],[0.0314,0.707],[0.0333,0.740],[0.0353,0.757],[0.0421,0.774],[0.0503,0.782],[0.0675,0.804],[0.0905,0.825],[0.1214,0.850],[0.163,0.875],[0.219,0.905],[0.293,0.938],[0.393,0.968],[0.5,0.985]];
const C_FPR_PAC = [[0.00035,0.723],[0.00095,0.725],[0.00098,0.734],[0.00182,0.736],[0.00187,0.753],[0.00266,0.753],[0.00337,0.766],[0.00357,0.778],[0.00426,0.782],[0.00426,0.812],[0.00643,0.820],[0.00861,0.829],[0.01028,0.842],[0.01552,0.863],[0.0208,0.871],[0.0375,0.884],[0.0447,0.896],[0.0675,0.905],[0.0905,0.917],[0.108,0.930],[0.163,0.947],[0.219,0.960],[0.293,0.972],[0.393,0.983],[0.5,0.989]];
const C_FPR_ARTCVC = [[0.00152,0.666],[0.00152,0.681],[0.00166,0.686],[0.00176,0.698],[0.00187,0.711],[0.00198,0.740],[0.00266,0.745],[0.00479,0.749],[0.00643,0.757],[0.00861,0.766],[0.01156,0.787],[0.01552,0.791],[0.0185,0.804],[0.0279,0.816],[0.0375,0.829],[0.0503,0.846],[0.0675,0.858],[0.0905,0.871],[0.1214,0.884],[0.163,0.901],[0.219,0.922],[0.293,0.951],[0.393,0.972],[0.5,0.985]];
const C_FPR_ARTPAC = [[0.000117,0.795],[0.0011,0.799],[0.001135,0.805],[0.00282,0.809],[0.00426,0.814],[0.00643,0.820],[0.00861,0.826],[0.01156,0.831],[0.01552,0.833],[0.0234,0.842],[0.0248,0.854],[0.0279,0.858],[0.0375,0.867],[0.0503,0.884],[0.0675,0.896],[0.0905,0.909],[0.1214,0.922],[0.163,0.938],[0.219,0.951],[0.293,0.964],[0.393,0.981],[0.5,0.993]];
const C_FPR_NIM_ci = [[0.002,0.325,0.34],[0.004,0.325,0.4],[0.005,0.325,0.44],[0.0052,0.44,0.52],[0.008,0.5,0.55],[0.02,0.56,0.6],[0.05,0.66,0.7],[0.5,0.98,0.99]];
const C_FPR_CVC_ci = [[0.000293,0.735,0.75],[0.005,0.745,0.77],[0.02,0.79,0.81],[0.1,0.85,0.87],[0.5,0.97,0.99]];
const C_FPR_ART_ci = [[0.000176,0.466,0.49],[0.001,0.466,0.51],[0.005,0.466,0.55],[0.0055,0.5,0.56],[0.01,0.55,0.59],[0.03,0.67,0.71],[0.1,0.84,0.86],[0.5,0.98,0.99]];
const C_FPR_ARTCO_ci = [[0.000176,0.52,0.54],[0.003,0.52,0.56],[0.006,0.54,0.58],[0.02,0.6,0.65],[0.03,0.69,0.74],[0.5,0.98,0.99]];
const C_FPR_PAC_ci = [[0.00035,0.72,0.73],[0.002,0.72,0.755],[0.004,0.72,0.79],[0.0045,0.76,0.81],[0.01,0.8,0.84],[0.5,0.985,0.995]];
const C_FPR_ARTCVC_ci = [[0.0015,0.658,0.67],[0.002,0.658,0.74],[0.008,0.658,0.76],[0.009,0.72,0.77],[0.015,0.77,0.8],[0.05,0.83,0.85],[0.5,0.98,0.99]];
const C_FPR_ARTPAC_ci = [[0.000117,0.785,0.8],[0.003,0.79,0.81],[0.01,0.82,0.84],[0.03,0.85,0.87],[0.1,0.9,0.92],[0.5,0.99,1]];

// ---------- table built from the arrays (model order without Random) ----------
const panels = [
  {left:[A_FNR_NIM,A_FNR_CVC,A_FNR_ART,A_FNR_ARTCO,A_FNR_PAC,A_FNR_ARTCVC,A_FNR_ARTPAC],
   leftCI:[A_FNR_NIM_ci,A_FNR_CVC_ci,A_FNR_ART_ci,A_FNR_ARTCO_ci,A_FNR_PAC_ci,A_FNR_ARTCVC_ci,A_FNR_ARTPAC_ci],
   right:[A_FPR_NIM,A_FPR_CVC,A_FPR_ART,A_FPR_ARTCO,A_FPR_PAC,A_FPR_ARTCVC,A_FPR_ARTPAC],
   rightCI:[A_FPR_NIM_ci,A_FPR_CVC_ci,A_FPR_ART_ci,A_FPR_ARTCO_ci,A_FPR_PAC_ci,A_FPR_ARTCVC_ci,A_FPR_ARTPAC_ci]},
  {left:[B_FNR_NIM,B_FNR_CVC,B_FNR_ART,B_FNR_ARTCO,B_FNR_PAC,B_FNR_ARTCVC,B_FNR_ARTPAC],
   leftCI:[B_FNR_NIM_ci,B_FNR_CVC_ci,B_FNR_ART_ci,B_FNR_ARTCO_ci,B_FNR_PAC_ci,B_FNR_ARTCVC_ci,B_FNR_ARTPAC_ci],
   right:[B_FPR_NIM,B_FPR_CVC,B_FPR_ART,B_FPR_ARTCO,B_FPR_PAC,B_FPR_ARTCVC,B_FPR_ARTPAC],
   rightCI:[B_FPR_NIM_ci,B_FPR_CVC_ci,B_FPR_ART_ci,B_FPR_ARTCO_ci,B_FPR_PAC_ci,B_FPR_ARTCVC_ci,B_FPR_ARTPAC_ci]},
  {left:[C_FNR_NIM,C_FNR_CVC,C_FNR_ART,C_FNR_ARTCO,C_FNR_PAC,C_FNR_ARTCVC,C_FNR_ARTPAC],
   leftCI:[C_FNR_NIM_ci,C_FNR_CVC_ci,C_FNR_ART_ci,C_FNR_ARTCO_ci,C_FNR_PAC_ci,C_FNR_ARTCVC_ci,C_FNR_ARTPAC_ci],
   right:[C_FPR_NIM,C_FPR_CVC,C_FPR_ART,C_FPR_ARTCO,C_FPR_PAC,C_FPR_ARTCVC,C_FPR_ARTPAC],
   rightCI:[C_FPR_NIM_ci,C_FPR_CVC_ci,C_FPR_ART_ci,C_FPR_ARTCO_ci,C_FPR_PAC_ci,C_FPR_ARTCVC_ci,C_FPR_ARTPAC_ci]}
];

// ---------- layout ----------
const svg = d3.select("#chart");
const plotLeft = 121, plotRight = 1376, plotMid = (plotLeft + plotRight) / 2;
const panelTop = [80, 693, 1306];
const panelH = 415;
const xTitleDy = [77, 77, 70];

const xFNR = d3.scaleLog().domain([0.5, 1e-4]).range([plotLeft, plotMid]);
const xFPR = d3.scaleLog().domain([1e-4, 0.5]).range([plotMid, plotRight]);
const y = d3.scaleLinear().domain([0, 1]).range([panelH, 0]);

const areaL = d3.area().x(d => xFNR(d[0])).y0(d => y(d[1])).y1(d => y(d[2]));
const areaR = d3.area().x(d => xFPR(d[0])).y0(d => y(d[1])).y1(d => y(d[2]));
const lineL = d3.line().x(d => xFNR(d[0])).y(d => y(d[1]));
const lineR = d3.line().x(d => xFPR(d[0])).y(d => y(d[1]));
const randomPts = randomRates.map((r, i) => [r, randomValues[i]]);

panels.forEach((P, pi) => {
  const g = svg.append("g").attr("transform", `translate(0,${panelTop[pi]})`);
  const clipId = "clip" + pi;
  g.append("clipPath").attr("id", clipId).append("rect")
    .attr("x", plotLeft).attr("y", 0).attr("width", plotRight - plotLeft).attr("height", panelH);
  const plot = g.append("g").attr("clip-path", `url(#${clipId})`);

  for (let m = 0; m < 7; m++) {
    const col = modelColors[m + 1];
    plot.append("path").attr("d", areaL(P.leftCI[m])).attr("fill", col).attr("fill-opacity", 0.09);
    plot.append("path").attr("d", areaR(P.rightCI[m])).attr("fill", col).attr("fill-opacity", 0.09);
  }
  plot.append("line")
    .attr("x1", xFPR(1e-4)).attr("x2", xFPR(1e-4)).attr("y1", 0).attr("y2", panelH)
    .attr("stroke", "#7f7f7f").attr("stroke-width", 2.4).attr("stroke-dasharray", "18,10");
  plot.append("path").attr("d", lineL(randomPts)).attr("fill", "none").attr("stroke", modelColors[0]).attr("stroke-width", 3.2);
  plot.append("path").attr("d", lineR(randomPts)).attr("fill", "none").attr("stroke", modelColors[0]).attr("stroke-width", 3.2);
  for (let m = 0; m < 7; m++) {
    const col = modelColors[m + 1];
    plot.append("path").attr("d", lineL(P.left[m])).attr("fill", "none").attr("stroke", col)
      .attr("stroke-width", 2.7).attr("stroke-linejoin", "round");
    plot.append("path").attr("d", lineR(P.right[m])).attr("fill", "none").attr("stroke", col)
      .attr("stroke-width", 2.7).attr("stroke-linejoin", "round");
  }

  g.append("rect").attr("x", plotLeft).attr("y", 0).attr("width", plotRight - plotLeft).attr("height", panelH)
    .attr("fill", "none").attr("stroke", "#333333").attr("stroke-width", 1.4);

  const ya = g.append("g").attr("transform", `translate(${plotLeft},0)`)
    .call(d3.axisLeft(y).tickValues(yTickValues).tickFormat((d, i) => yTickLabels[i]).tickSize(7).tickPadding(7));
  ya.select(".domain").remove();
  ya.selectAll(".tick line").attr("stroke", "#333333").attr("stroke-width", 1.4);
  ya.selectAll(".tick text").attr("fill", "#4d4d4d").style("font-size", "22px")
    .style("font-family", '"Liberation Sans",Arial,sans-serif');

  const xa1 = g.append("g").attr("transform", `translate(0,${panelH})`)
    .call(d3.axisBottom(xFNR).tickValues(fnrTickValues).tickFormat(() => "").tickSize(7));
  const xa2 = g.append("g").attr("transform", `translate(0,${panelH})`)
    .call(d3.axisBottom(xFPR).tickValues(fprTickValues).tickFormat(() => "").tickSize(7));
  [xa1, xa2].forEach(a => {
    a.select(".domain").remove();
    a.selectAll(".tick line").attr("stroke", "#333333").attr("stroke-width", 1.4);
  });
  const tickLab = (xpos, ex) => {
    const t = g.append("text").attr("x", xpos).attr("y", panelH + 40).attr("text-anchor", "middle")
      .attr("fill", "#4d4d4d").style("font-size", "22px");
    t.append("tspan").text("10");
    t.append("tspan").attr("dy", -9).style("font-size", "15.5px").text(ex);
  };
  fnrTickValues.forEach((v, i) => tickLab(xFNR(v), fnrTickExponents[i]));
  fprTickValues.forEach((v, i) => tickLab(xFPR(v), fprTickExponents[i]));

  const xOff = [-203, -122, -2, 117, 207];
  xTitleParts.forEach((s, i) => {
    g.append("text").attr("x", plotMid + xOff[i]).attr("y", panelH + xTitleDy[pi]).attr("text-anchor", "middle")
      .style("font-size", "30px").attr("fill", "#000").text(s);
  });
  g.append("text").attr("transform", `translate(45,${panelH / 2}) rotate(-90)`).attr("text-anchor", "middle")
    .style("font-size", "30px").text(yTitleLeft);
  g.append("text").attr("transform", `translate(1381,${panelH / 2}) rotate(90)`).attr("text-anchor", "middle")
    .style("font-size", "30px").text(yTitleRight);
  g.append("text").attr("x", 120).attr("y", -23).style("font-size", "35.5px").text(panelTitles[pi]);
  g.append("text").attr("x", 1).attr("y", -51).style("font-size", "29px").text(panelTags[pi]);
});

// legend
const lg = svg.append("g");
lg.append("text").attr("x", 1483).attr("y", 697).style("font-size", "29px").text(legendTitle);
models.forEach((m, i) => {
  const yy = 742 + i * 52;
  lg.append("line").attr("x1", 1488).attr("x2", 1530).attr("y1", yy).attr("y2", yy)
    .attr("stroke", modelColors[i]).attr("stroke-width", 3);
  lg.append("text").attr("x", 1549).attr("y", yy + 9).style("font-size", "23px").text(m);
});
</script>
</body></html>
